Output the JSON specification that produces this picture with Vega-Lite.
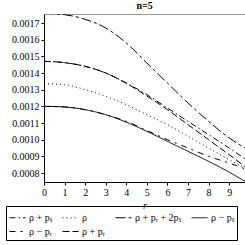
{
  "$schema": "https://vega.github.io/schema/vega-lite/v6.json",
  "width": 201,
  "height": 168,
  "padding": {"left": 5, "top": 1, "right": 4, "bottom": 0},
  "background": "white",
  "title": {"text": "n=5", "font": "Times New Roman, Liberation Serif, serif", "fontSize": 10, "fontWeight": "bold", "offset": 3, "color": "black"},
  "config": {
    "view": {"stroke": "#999", "strokeWidth": 1},
    "font": "Times New Roman, Liberation Serif, serif"
  },
  "data": {"values": [
    {"series": "ρ + pᵣ + 2pₜ", "r": 0, "value": 0.001758},
    {"series": "ρ + pᵣ + 2pₜ", "r": 1, "value": 0.00175},
    {"series": "ρ + pᵣ + 2pₜ", "r": 2, "value": 0.001722},
    {"series": "ρ + pᵣ + 2pₜ", "r": 3, "value": 0.00167},
    {"series": "ρ + pᵣ + 2pₜ", "r": 4, "value": 0.00158},
    {"series": "ρ + pᵣ + 2pₜ", "r": 5, "value": 0.00146},
    {"series": "ρ + pᵣ + 2pₜ", "r": 6, "value": 0.00134},
    {"series": "ρ + pᵣ + 2pₜ", "r": 7, "value": 0.00122},
    {"series": "ρ + pᵣ + 2pₜ", "r": 8, "value": 0.00111},
    {"series": "ρ + pᵣ + 2pₜ", "r": 9, "value": 0.00101},
    {"series": "ρ + pᵣ + 2pₜ", "r": 9.77, "value": 0.00095},
    {"series": "ρ + pₜ", "r": 0, "value": 0.00147},
    {"series": "ρ + pₜ", "r": 1, "value": 0.001462},
    {"series": "ρ + pₜ", "r": 2, "value": 0.00144},
    {"series": "ρ + pₜ", "r": 3, "value": 0.0014},
    {"series": "ρ + pₜ", "r": 4, "value": 0.00134},
    {"series": "ρ + pₜ", "r": 5, "value": 0.00127},
    {"series": "ρ + pₜ", "r": 6, "value": 0.00119},
    {"series": "ρ + pₜ", "r": 7, "value": 0.00111},
    {"series": "ρ + pₜ", "r": 8, "value": 0.00103},
    {"series": "ρ + pₜ", "r": 9, "value": 0.00095},
    {"series": "ρ + pₜ", "r": 9.77, "value": 0.000885},
    {"series": "ρ + pᵣ", "r": 0, "value": 0.00147},
    {"series": "ρ + pᵣ", "r": 1, "value": 0.001462},
    {"series": "ρ + pᵣ", "r": 2, "value": 0.00144},
    {"series": "ρ + pᵣ", "r": 3, "value": 0.0014},
    {"series": "ρ + pᵣ", "r": 4, "value": 0.001338},
    {"series": "ρ + pᵣ", "r": 5, "value": 0.001262},
    {"series": "ρ + pᵣ", "r": 6, "value": 0.00118},
    {"series": "ρ + pᵣ", "r": 7, "value": 0.00109},
    {"series": "ρ + pᵣ", "r": 8, "value": 0.001},
    {"series": "ρ + pᵣ", "r": 9, "value": 0.00091},
    {"series": "ρ + pᵣ", "r": 9.77, "value": 0.000838},
    {"series": "ρ", "r": 0, "value": 0.001336},
    {"series": "ρ", "r": 1, "value": 0.00133},
    {"series": "ρ", "r": 2, "value": 0.0013},
    {"series": "ρ", "r": 3, "value": 0.00126},
    {"series": "ρ", "r": 4, "value": 0.00121},
    {"series": "ρ", "r": 5, "value": 0.00115},
    {"series": "ρ", "r": 6, "value": 0.00109},
    {"series": "ρ", "r": 7, "value": 0.00102},
    {"series": "ρ", "r": 8, "value": 0.00095},
    {"series": "ρ", "r": 9, "value": 0.00088},
    {"series": "ρ", "r": 9.77, "value": 0.00083},
    {"series": "ρ − pᵣ", "r": 0, "value": 0.0012},
    {"series": "ρ − pᵣ", "r": 1, "value": 0.001196},
    {"series": "ρ − pᵣ", "r": 2, "value": 0.00118},
    {"series": "ρ − pᵣ", "r": 3, "value": 0.00115},
    {"series": "ρ − pᵣ", "r": 4, "value": 0.00111},
    {"series": "ρ − pᵣ", "r": 5, "value": 0.001055},
    {"series": "ρ − pᵣ", "r": 6, "value": 0.001},
    {"series": "ρ − pᵣ", "r": 7, "value": 0.00095},
    {"series": "ρ − pᵣ", "r": 8, "value": 0.0009},
    {"series": "ρ − pᵣ", "r": 9, "value": 0.00086},
    {"series": "ρ − pᵣ", "r": 9.77, "value": 0.000825},
    {"series": "ρ − pₜ", "r": 0, "value": 0.0012},
    {"series": "ρ − pₜ", "r": 1, "value": 0.001196},
    {"series": "ρ − pₜ", "r": 2, "value": 0.00118},
    {"series": "ρ − pₜ", "r": 3, "value": 0.00115},
    {"series": "ρ − pₜ", "r": 4, "value": 0.001105},
    {"series": "ρ − pₜ", "r": 5, "value": 0.00105},
    {"series": "ρ − pₜ", "r": 6, "value": 0.00099},
    {"series": "ρ − pₜ", "r": 7, "value": 0.00093},
    {"series": "ρ − pₜ", "r": 8, "value": 0.00087},
    {"series": "ρ − pₜ", "r": 9, "value": 0.000805},
    {"series": "ρ − pₜ", "r": 9.77, "value": 0.00075}
  ]},
  "mark": {"type": "line", "color": "black", "strokeWidth": 1, "interpolate": "monotone", "clip": true},
  "encoding": {
    "x": {
      "field": "r", "type": "quantitative",
      "scale": {"domain": [0, 9.77], "nice": false, "zero": false},
      "axis": {"values": [0,1,2,3,4,5,6,7,8,9], "title": "r", "titleFontStyle": "italic", "titleFontWeight": "normal", "titleFontSize": 10, "titlePadding": 3, "labelFontSize": 10, "labelColor": "black", "titleColor": "black", "domainColor": "black", "tickColor": "black", "tickSize": 3, "grid": false, "labelPadding": 2, "labelFlush": false}
    },
    "y": {
      "field": "value", "type": "quantitative",
      "scale": {"domain": [0.000746, 0.001754], "nice": false, "zero": false},
      "axis": {"values": [0.0008,0.0009,0.001,0.0011,0.0012,0.0013,0.0014,0.0015,0.0016,0.0017], "format": ".4f", "title": null, "labelFontSize": 10, "labelColor": "black", "domainColor": "black", "tickColor": "black", "tickSize": 3, "grid": false, "labelPadding": 2, "minExtent": 35, "maxExtent": 35}
    },
    "strokeDash": {
      "field": "series", "type": "nominal",
      "scale": {
        "domain": ["ρ + pₜ", "ρ", "ρ + pᵣ + 2pₜ", "ρ − pₜ", "ρ − pᵣ", "ρ + pᵣ"],
        "range": [[6,3,1.5,3], [1,3], [10,3,3,3], [1,0], [6,5,2,5], [7,3]]
      },
      "legend": {
        "orient": "none", "legendX": -38, "legendY": 192, "direction": "horizontal", "columns": 4, "title": null,
        "symbolType": "stroke", "symbolSize": 256, "symbolStrokeColor": "black", "symbolStrokeWidth": 1,
        "labelFontSize": 10, "labelColor": "black",
        "strokeColor": "black", "padding": 3, "rowPadding": 0, "columnPadding": 8,
        "labelOffset": 3
      }
    }
  }
}
